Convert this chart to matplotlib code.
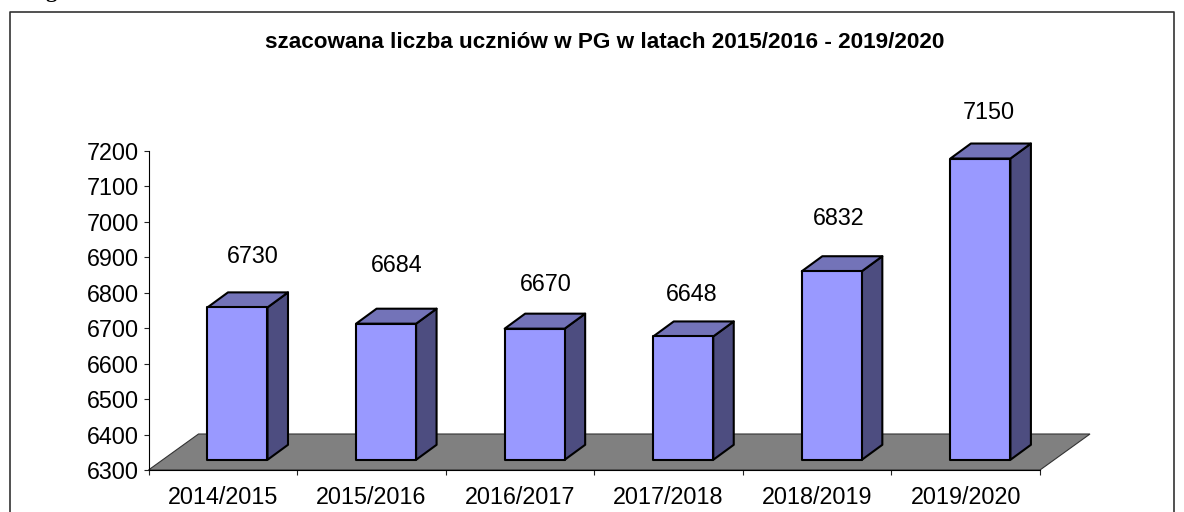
import matplotlib
matplotlib.use("Agg")
import matplotlib.pyplot as plt
from matplotlib.patches import Polygon, Rectangle

categories = ["2014/2015", "2015/2016", "2016/2017", "2017/2018", "2018/2019", "2019/2020"]
values = [6730, 6684, 6670, 6648, 6832, 7150]
yticks = list(range(6300, 7300, 100))
title = "szacowana liczba uczniów w PG w latach 2015/2016 - 2019/2020"

# hand-placed value labels in the reference: pixel offsets from (category centre, value height)
label_dx_px = [30.2, 25.1, 26.0, 23.4, 21.3, 23.2]
label_dy_px = [60.9, 68.2, 54.2, 52.0, 63.2, 56.7]

W, H = 1184, 512
plt.rcParams['font.family'] = ['Liberation Sans', 'DejaVu Sans']
fig = plt.figure(figsize=(W / 100, H / 100), dpi=100, facecolor='white')

# page-level frame, clipped caption descender and title
bg = fig.add_axes([0, 0, 1, 1])
bg.set_xlim(0, W); bg.set_ylim(H, 0); bg.axis('off')
bg.plot([9.5, 9.5, 1173.5, 1173.5], [520, 12, 12, 520], color='#333333', lw=1.2)
bg.text(51, -2.5, "g", ha='center', va='baseline', fontsize=16, fontweight='bold',
        family='Liberation Serif', color='black')
bg.text(605, 43, title, ha='center', va='center', fontsize=16.2, fontweight='bold', color='black')

ax_l, ax_r, ax_t, ax_b = 148.5, 1040.0, 151.0, 470.0
ax = fig.add_axes([ax_l / W, 1 - ax_b / H, (ax_r - ax_l) / W, (ax_b - ax_t) / H])
ax.patch.set_alpha(0)
ax.set_xlim(0, len(categories))
ax.set_ylim(6300, 7200)
px_x = len(categories) / (ax_r - ax_l)
px_y = 900 / (ax_b - ax_t)

for s in ['top', 'right']:
    ax.spines[s].set_visible(False)
for s in ['left', 'bottom']:
    ax.spines[s].set_linewidth(0.8)
ax.set_yticks(yticks)
ax.set_yticklabels([str(v) for v in yticks], fontsize=16.8)
ax.set_xticks(range(len(categories) + 1))
ax.set_xticklabels([''] * (len(categories) + 1))
ax.tick_params(axis='y', length=3.6, width=0.8, pad=3.4, color='#222222')
ax.tick_params(axis='x', length=3.6, width=0.8, color='#222222')
for i, c in enumerate(categories):
    ax.text(i + 0.5, 6300 - 27 * px_y, c, ha='center', va='center', fontsize=16.8, clip_on=False)

# floor
fdx, fdy = 50, 36
x0, x1 = 0, len(categories)
floor = [(x0, 6300), (x1, 6300),
         (x1 + fdx * px_x, 6300 + fdy * px_y), (x0 + fdx * px_x, 6300 + fdy * px_y)]
ax.add_patch(Polygon(floor, closed=True, facecolor='#808080', edgecolor='#333333', lw=0.8,
                     clip_on=False, zorder=1))

bw = 60 * px_x
front_dx, front_dy = 14.7 * px_x, 10.2 * px_y
sx, sy = 20.5 * px_x, 15 * px_y
lw = 1.5
for i, v in enumerate(values):
    l = i + 0.5 - bw / 2 + front_dx
    r = l + bw
    b = 6300 + front_dy
    t = v + front_dy
    ax.add_patch(Polygon([(r, b), (r + sx, b + sy), (r + sx, t + sy), (r, t)], closed=True,
                         facecolor='#4D4D80', edgecolor='black', lw=lw, clip_on=False,
                         joinstyle='round', zorder=3))
    ax.add_patch(Polygon([(l, t), (r, t), (r + sx, t + sy), (l + sx, t + sy)], closed=True,
                         facecolor='#7373B8', edgecolor='black', lw=lw, clip_on=False,
                         joinstyle='round', zorder=3))
    ax.add_patch(Rectangle((l, b), bw, t - b, facecolor='#9999FF', edgecolor='black', lw=lw,
                           clip_on=False, joinstyle='round', zorder=4))
    ax.text(i + 0.5 + label_dx_px[i] * px_x, v + label_dy_px[i] * px_y, str(v), ha='center', va='center',
            fontsize=16.8, clip_on=False, zorder=5)

fig.savefig('out.png', dpi=100)
